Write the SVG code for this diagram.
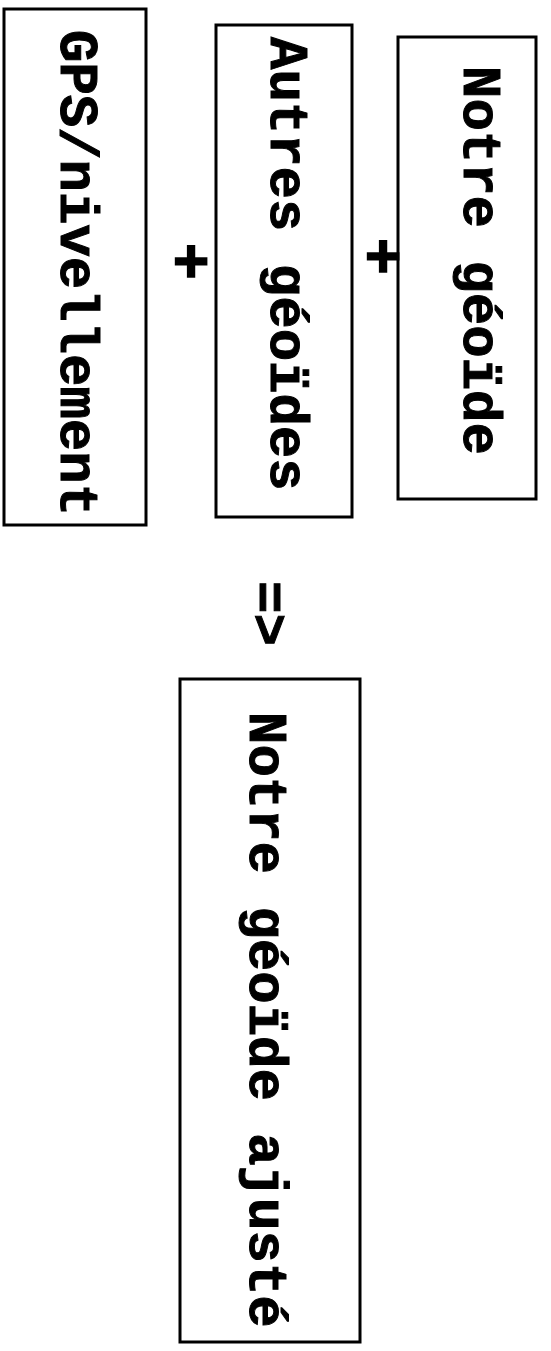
<svg xmlns="http://www.w3.org/2000/svg" width="551" height="1351" viewBox="0 0 551 1351">
<style>
.box{fill:#fff;stroke:#000;stroke-width:3}
.t{font-family:"Liberation Mono","Courier New",monospace;font-weight:bold;font-size:54px;fill:#000;stroke:#000;stroke-width:1}
.op{font-family:"Liberation Mono","Courier New",monospace;font-weight:bold;font-size:62px;fill:#000;stroke:#000;stroke-width:1.5;text-anchor:middle}
</style>
<rect width="551" height="1351" fill="#fff"/>
<g id="gps">
<rect class="box" x="4" y="9" width="142" height="516"/>
<text class="t" transform="translate(61,30) rotate(90)">GPS/nivellement</text>
</g>
<g id="autres">
<rect class="box" x="216" y="25" width="136" height="492"/>
<text class="t" transform="translate(271,37) rotate(90)">Autres géoïdes</text>
</g>
<g id="notre">
<rect class="box" x="398" y="37" width="138" height="462"/>
<text class="t" transform="translate(464,66) rotate(90)">Notre géoïde</text>
</g>
<g id="ajuste">
<rect class="box" x="180" y="679" width="180" height="663"/>
<text class="t" transform="translate(250,712) rotate(90)">Notre géoïde ajusté</text>
</g>
<g id="connectors">
<text class="op" x="191" y="282">+</text>
<text class="op" x="383" y="277">+</text>
<text class="t" transform="translate(252,581) rotate(90)">=&gt;</text>
</g>
</svg>
